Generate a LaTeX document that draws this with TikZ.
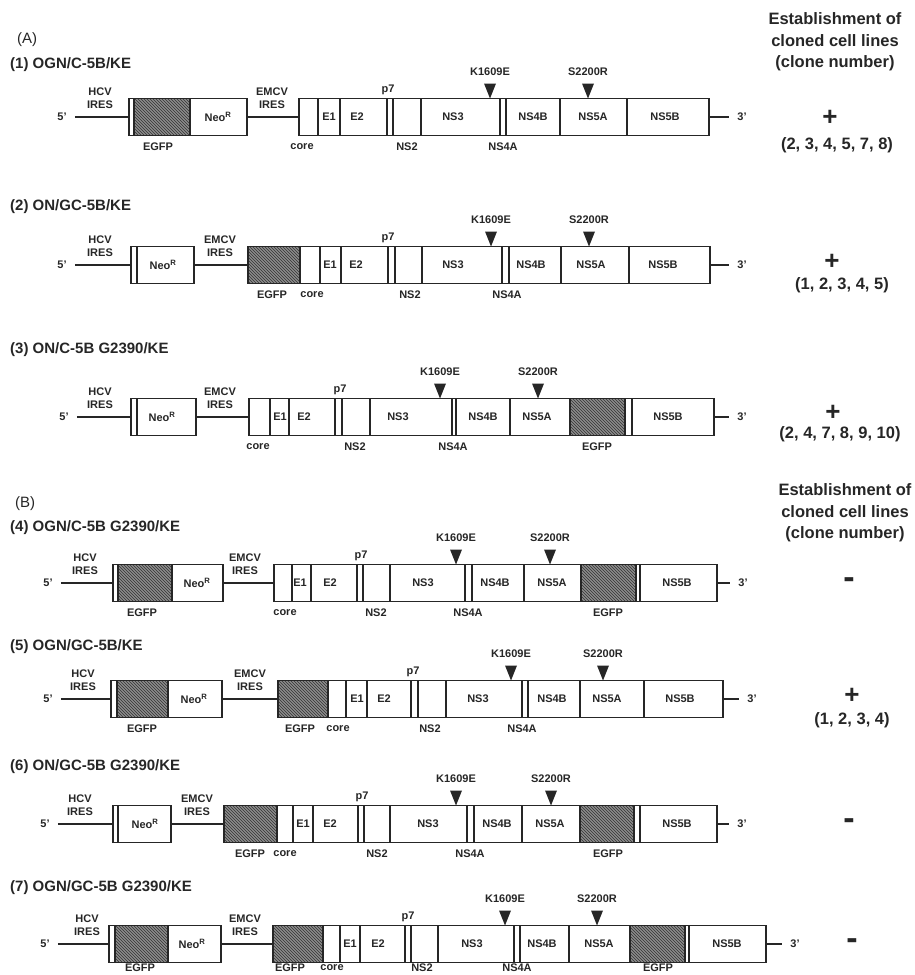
\documentclass[tikz,border=0pt]{standalone}
\usepackage{fontspec}
\setmainfont{Liberation Sans}
\usetikzlibrary{patterns,positioning}
\definecolor{mapink}{HTML}{262626}
\tikzset{
 map line/.style={line width=1.7pt,draw=mapink},
 map box/.style={draw=mapink,line width=1.7pt,minimum height=37pt,inner sep=0pt,anchor=west},
 egfp fill/.style={fill=black!45,postaction={pattern=north west lines,pattern color=black!80}},
 seg/.style={font=\bfseries\fontsize{11}{12}\selectfont,text=mapink,inner sep=1pt},
 ires/.style={seg,align=center,font=\bfseries\fontsize{11}{13}\selectfont},
 end label/.style={seg,inner xsep=8pt},
 row title/.style={font=\bfseries\fontsize{15}{17}\selectfont,text=mapink,anchor=west,inner sep=0pt},
 panel/.style={font=\fontsize{15}{17}\selectfont,text=mapink,anchor=west,inner sep=0pt},
 heading/.style={font=\bfseries\fontsize{16.5}{21.5}\selectfont,align=center,text=mapink},
 result/.style={font=\bfseries\fontsize{16.5}{18}\selectfont,text=mapink},
 plus/.style={font=\bfseries\fontsize{26}{26}\selectfont,text=mapink,inner sep=0pt},
 minus/.style={font=\bfseries\fontsize{34}{34}\selectfont,text=mapink,inner sep=0pt},
 pics/mut mark/.style={code={
   \fill[mapink] (-6,-15) -- (6,-15) -- (0,0) -- cycle;
   \node[seg] (-lab) at (0,-27) {#1};
 }}
}

\begin{document}
\begin{tikzpicture}[x=1pt,y=-1pt]
\useasboundingbox (0,0) rectangle (914,975);
\node[panel] (panA) at (17,40) {(A)};
\node[heading] (estA) at (835,42) {Establishment of\\cloned cell lines\\(clone number)};

% (1) OGN/C-5B/KE
\begin{scope}[shift={(0,117)}]
\node[row title] (r1title) at (10,-52) {(1) OGN/C-5B/KE};
\fill[egfp fill] (134,-18.5) rectangle (190,18.5);
\node[map box,minimum width=118pt] (r1neo) at (128,0) {};
\node[map box,minimum width=410pt] (r1poly) at (298,0) {};
\foreach \x in {134,190,318,340,387,393,421,500,506,560,627}
  \draw[map line] (\x,-18.5) -- (\x,18.5);
\node[end label] (r1five) at (62,0) {5'};
\node[end label] (r1three) at (742,0) {3'};
\draw[map line] (r1five) -- (r1neo);
\draw[map line] (r1neo) -- (r1poly);
\draw[map line] (r1poly) -- (r1three);
\node[ires] (r1hcv) at (100,-18.5) {HCV\\IRES};
\node[ires] (r1emcv) at (272,-18.5) {EMCV\\IRES};
\node[seg] (r1p7) at (388,-27.5) {p7};
\node[seg] (r1neor) at (218,0) {Neo\textsuperscript{R}};
\foreach \x/\t in {329/E1,357/E2,453/NS3,533/NS4B,593/NS5A,665/NS5B}
  \node[seg] (r1s\x) at (\x,0) {\t};
\foreach \x/\t in {158/EGFP,302/core,407/NS2,503/NS4A}
  \node[seg] (r1b\x) at (\x,29.5) {\t};
\pic (r1k) at (490,-18.5) {mut mark=K1609E};
\pic (r1s) at (588,-18.5) {mut mark=S2200R};
\node[plus] (r1res) at (830,1) {+};
\node[result] (r1num) at (837,28) {(2, 3, 4, 5, 7, 8)};
\end{scope}

% (2) ON/GC-5B/KE
\begin{scope}[shift={(0,265)}]
\node[row title] (r2title) at (10,-58) {(2) ON/GC-5B/KE};
\fill[egfp fill] (247,-18.5) rectangle (300,18.5);
\node[map box,minimum width=63pt] (r2neo) at (130,0) {};
\node[map box,minimum width=462pt] (r2poly) at (247,0) {};
\foreach \x in {137,300,320,341,388,395,422,502,509,561,629}
  \draw[map line] (\x,-18.5) -- (\x,18.5);
\node[end label] (r2five) at (62,0) {5'};
\node[end label] (r2three) at (742,0) {3'};
\draw[map line] (r2five) -- (r2neo);
\draw[map line] (r2neo) -- (r2poly);
\draw[map line] (r2poly) -- (r2three);
\node[ires] (r2hcv) at (100,-18.5) {HCV\\IRES};
\node[ires] (r2emcv) at (220,-18.5) {EMCV\\IRES};
\node[seg] (r2p7) at (388,-27.5) {p7};
\node[seg] (r2neor) at (163,0) {Neo\textsuperscript{R}};
\foreach \x/\t in {330/E1,356/E2,453/NS3,531/NS4B,591/NS5A,663/NS5B}
  \node[seg] (r2s\x) at (\x,0) {\t};
\foreach \x/\t in {272/EGFP,312/core,410/NS2,507/NS4A}
  \node[seg] (r2b\x) at (\x,29.5) {\t};
\pic (r2k) at (491,-18.5) {mut mark=K1609E};
\pic (r2s) at (589,-18.5) {mut mark=S2200R};
\node[plus] (r2res) at (832,-3) {+};
\node[result] (r2num) at (842,20) {(1, 2, 3, 4, 5)};
\end{scope}

% (3) ON/C-5B G2390/KE
\begin{scope}[shift={(0,417)}]
\node[row title] (r3title) at (10,-67) {(3) ON/C-5B G2390/KE};
\fill[egfp fill] (570,-18.5) rectangle (625,18.5);
\node[map box,minimum width=65pt] (r3neo) at (130,0) {};
\node[map box,minimum width=465pt] (r3poly) at (248,0) {};
\foreach \x in {137,270,289,335,342,370,452,456,510,570,625,632}
  \draw[map line] (\x,-18.5) -- (\x,18.5);
\node[end label] (r3five) at (64,0) {5'};
\node[end label] (r3three) at (742,0) {3'};
\draw[map line] (r3five) -- (r3neo);
\draw[map line] (r3neo) -- (r3poly);
\draw[map line] (r3poly) -- (r3three);
\node[ires] (r3hcv) at (100,-18.5) {HCV\\IRES};
\node[ires] (r3emcv) at (220,-18.5) {EMCV\\IRES};
\node[seg] (r3p7) at (340,-27.5) {p7};
\node[seg] (r3neor) at (162,0) {Neo\textsuperscript{R}};
\foreach \x/\t in {280/E1,304/E2,398/NS3,483/NS4B,537/NS5A,668/NS5B}
  \node[seg] (r3s\x) at (\x,0) {\t};
\foreach \x/\t in {258/core,355/NS2,453/NS4A,597/EGFP}
  \node[seg] (r3b\x) at (\x,29.5) {\t};
\pic (r3k) at (440,-18.5) {mut mark=K1609E};
\pic (r3s) at (538,-18.5) {mut mark=S2200R};
\node[plus] (r3res) at (833,-4) {+};
\node[result] (r3num) at (840,17) {(2, 4, 7, 8, 9, 10)};
\end{scope}

\node[panel] (panB) at (15,504) {(B)};
\node[heading] (estB) at (845,513) {Establishment of\\cloned cell lines\\(clone number)};

% (4) OGN/C-5B G2390/KE
\begin{scope}[shift={(0,583)}]
\node[row title] (r4title) at (10,-55) {(4) OGN/C-5B G2390/KE};
\fill[egfp fill] (118,-18.5) rectangle (172,18.5);
\fill[egfp fill] (581,-18.5) rectangle (636,18.5);
\node[map box,minimum width=110pt] (r4neo) at (112,0) {};
\node[map box,minimum width=443pt] (r4poly) at (273,0) {};
\foreach \x in {118,172,292,311,357,363,390,465,472,524,581,636,640}
  \draw[map line] (\x,-18.5) -- (\x,18.5);
\node[end label] (r4five) at (48,0) {5'};
\node[end label] (r4three) at (743,0) {3'};
\draw[map line] (r4five) -- (r4neo);
\draw[map line] (r4neo) -- (r4poly);
\draw[map line] (r4poly) -- (r4three);
\node[ires] (r4hcv) at (85,-18.5) {HCV\\IRES};
\node[ires] (r4emcv) at (245,-18.5) {EMCV\\IRES};
\node[seg] (r4p7) at (361,-27.5) {p7};
\node[seg] (r4neor) at (197,0) {Neo\textsuperscript{R}};
\foreach \x/\t in {300/E1,330/E2,423/NS3,495/NS4B,552/NS5A,677/NS5B}
  \node[seg] (r4s\x) at (\x,0) {\t};
\foreach \x/\t in {142/EGFP,285/core,376/NS2,468/NS4A,608/EGFP}
  \node[seg] (r4b\x) at (\x,29.5) {\t};
\pic (r4k) at (456,-18.5) {mut mark=K1609E};
\pic (r4s) at (550,-18.5) {mut mark=S2200R};
\node[minus] (r4res) at (849,0) {-};
\end{scope}

% (5) OGN/GC-5B/KE
\begin{scope}[shift={(0,699)}]
\node[row title] (r5title) at (10,-52) {(5) OGN/GC-5B/KE};
\fill[egfp fill] (117,-18.5) rectangle (168,18.5);
\fill[egfp fill] (277,-18.5) rectangle (328,18.5);
\node[map box,minimum width=111pt] (r5neo) at (110,0) {};
\node[map box,minimum width=445pt] (r5poly) at (277,0) {};
\foreach \x in {117,168,328,346,367,411,418,446,522,528,580,644}
  \draw[map line] (\x,-18.5) -- (\x,18.5);
\node[end label] (r5five) at (48,0) {5'};
\node[end label] (r5three) at (752,0) {3'};
\draw[map line] (r5five) -- (r5neo);
\draw[map line] (r5neo) -- (r5poly);
\draw[map line] (r5poly) -- (r5three);
\node[ires] (r5hcv) at (83,-18.5) {HCV\\IRES};
\node[ires] (r5emcv) at (250,-18.5) {EMCV\\IRES};
\node[seg] (r5p7) at (413,-27.5) {p7};
\node[seg] (r5neor) at (194,0) {Neo\textsuperscript{R}};
\foreach \x/\t in {357/E1,384/E2,478/NS3,552/NS4B,607/NS5A,680/NS5B}
  \node[seg] (r5s\x) at (\x,0) {\t};
\foreach \x/\t in {142/EGFP,300/EGFP,338/core,430/NS2,522/NS4A}
  \node[seg] (r5b\x) at (\x,29.5) {\t};
\pic (r5k) at (511,-18.5) {mut mark=K1609E};
\pic (r5s) at (603,-18.5) {mut mark=S2200R};
\node[plus] (r5res) at (852,-3) {+};
\node[result] (r5num) at (852,21) {(1, 2, 3, 4)};
\end{scope}

% (6) ON/GC-5B G2390/KE
\begin{scope}[shift={(0,824)}]
\node[row title] (r6title) at (10,-57) {(6) ON/GC-5B G2390/KE};
\fill[egfp fill] (223,-18.5) rectangle (277,18.5);
\fill[egfp fill] (580,-18.5) rectangle (634,18.5);
\node[map box,minimum width=58pt] (r6neo) at (112,0) {};
\node[map box,minimum width=493pt] (r6poly) at (223,0) {};
\foreach \x in {118,277,293,313,358,364,390,467,474,522,580,634,640}
  \draw[map line] (\x,-18.5) -- (\x,18.5);
\node[end label] (r6five) at (45,0) {5'};
\node[end label] (r6three) at (742,0) {3'};
\draw[map line] (r6five) -- (r6neo);
\draw[map line] (r6neo) -- (r6poly);
\draw[map line] (r6poly) -- (r6three);
\node[ires] (r6hcv) at (80,-18.5) {HCV\\IRES};
\node[ires] (r6emcv) at (197,-18.5) {EMCV\\IRES};
\node[seg] (r6p7) at (362,-27.5) {p7};
\node[seg] (r6neor) at (145,0) {Neo\textsuperscript{R}};
\foreach \x/\t in {303/E1,330/E2,428/NS3,497/NS4B,550/NS5A,677/NS5B}
  \node[seg] (r6s\x) at (\x,0) {\t};
\foreach \x/\t in {250/EGFP,285/core,377/NS2,470/NS4A,608/EGFP}
  \node[seg] (r6b\x) at (\x,29.5) {\t};
\pic (r6k) at (456,-18.5) {mut mark=K1609E};
\pic (r6s) at (551,-18.5) {mut mark=S2200R};
\node[minus] (r6res) at (849,0) {-};
\end{scope}

% (7) OGN/GC-5B G2390/KE
\begin{scope}[shift={(0,944)}]
\node[row title] (r7title) at (10,-56) {(7) OGN/GC-5B G2390/KE};
\fill[egfp fill] (115,-18.5) rectangle (168,18.5);
\fill[egfp fill] (272,-18.5) rectangle (323,18.5);
\fill[egfp fill] (630,-18.5) rectangle (685,18.5);
\node[map box,minimum width=112pt] (r7neo) at (108,0) {};
\node[map box,minimum width=493pt] (r7poly) at (272,0) {};
\foreach \x in {115,168,323,340,360,405,411,438,514,520,569,630,685,689}
  \draw[map line] (\x,-18.5) -- (\x,18.5);
\node[end label] (r7five) at (45,0) {5'};
\node[end label] (r7three) at (795,0) {3'};
\draw[map line] (r7five) -- (r7neo);
\draw[map line] (r7neo) -- (r7poly);
\draw[map line] (r7poly) -- (r7three);
\node[ires] (r7hcv) at (87,-18.5) {HCV\\IRES};
\node[ires] (r7emcv) at (245,-18.5) {EMCV\\IRES};
\node[seg] (r7p7) at (408,-27.5) {p7};
\node[seg] (r7neor) at (192,0) {Neo\textsuperscript{R}};
\foreach \x/\t in {350/E1,378/E2,472/NS3,542/NS4B,599/NS5A,727/NS5B}
  \node[seg] (r7s\x) at (\x,0) {\t};
\foreach \x/\t in {140/EGFP,290/EGFP,332/core,422/NS2,517/NS4A,658/EGFP}
  \node[seg,inner sep=0pt] (r7b\x) at (\x,24) {\t};
\pic (r7k) at (505,-18.5) {mut mark=K1609E};
\pic (r7s) at (597,-18.5) {mut mark=S2200R};
\node[minus] (r7res) at (852,0) {-};
\end{scope}
\end{tikzpicture}
\end{document}
